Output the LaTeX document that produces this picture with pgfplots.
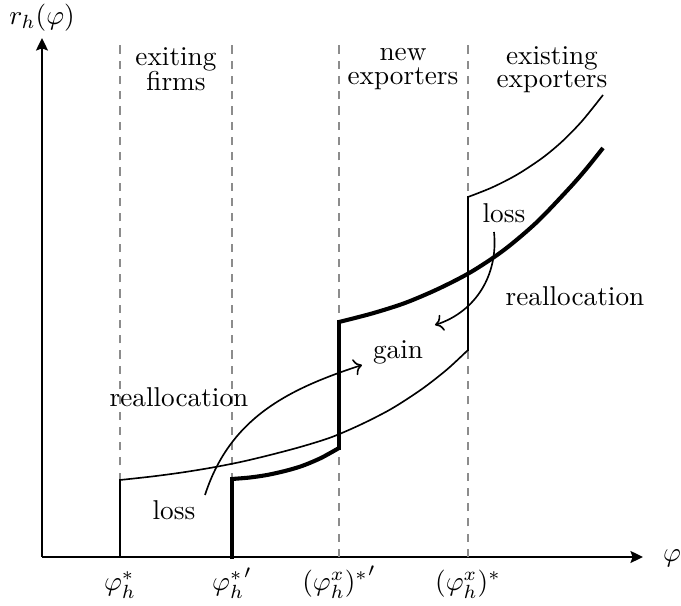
\documentclass[border=0pt]{standalone}
\usepackage{pgfplots}
\pgfplotsset{compat=1.18}
\usetikzlibrary{arrows.meta}
\begin{document}
\begin{tikzpicture}
\begin{axis}[
  scale only axis, width=220.6pt, height=190.5pt,
  xmin=0, xmax=601, ymin=0, ymax=519,
  axis lines=left,
  axis line style={line width=0.75pt, -{Stealth[length=4.6pt,width=4.4pt,inset=0.8pt]}},
  xtick={78,190,297,426},
  xticklabels={$\varphi_h^*$, ${\varphi_h^*}'$, ${(\varphi_h^x)^*}'$, $(\varphi_h^x)^*$},
  ytick=\empty,
  major tick length=0pt,
  xticklabel style={anchor=base, inner sep=0pt, yshift=-12.3pt},
  clip=false,
]
% invisible frame fixing the picture size
\path (axis cs:-42,-49) rectangle (axis cs:639,557);

% dashed guides
\addplot[black!45, line width=0.4pt, dash pattern=on 3pt off 2.6pt] coordinates {(78,0) (78,512)};
\addplot[black!45, line width=0.4pt, dash pattern=on 3pt off 2.6pt] coordinates {(190,0) (190,512)};
\addplot[black!45, line width=0.4pt, dash pattern=on 3pt off 2.6pt] coordinates {(297,0) (297,512)};
\addplot[black!45, line width=0.4pt, dash pattern=on 3pt off 2.6pt] coordinates {(426,0) (426,512)};

% thin (old) revenue schedule
\addplot[black, line width=0.6pt, line cap=rect] coordinates {(78,0) (78,77)};
\addplot[black, line width=0.6pt, smooth] coordinates {(78,77) (110,80.5) (140,84.5) (170,89.4) (200,95.3) (230,102.5) (260,110.5) (290,120) (320,133) (350,148.5) (380,168) (405,187.5) (426,207)};
\addplot[black, line width=0.6pt, line cap=rect] coordinates {(426,207) (426,360)};
\addplot[black, line width=0.6pt, smooth] coordinates {(426,360) (450,369.5) (475,382.3) (500,398.8) (520,415.4) (540,435.9) (561,462)};

% thick (new) revenue schedule
\addplot[black, line width=1.5pt, line cap=rect] coordinates {(190,0) (190,78)};
\addplot[black, line width=1.5pt, smooth] coordinates {(190,78) (208,79.5) (225,82) (243,86) (260,91) (279,99) (297,109)};
\addplot[black, line width=1.5pt, line cap=rect] coordinates {(297,109) (297,235)};
\addplot[black, line width=1.5pt, smooth] coordinates {(297,235) (330,243.5) (363,254) (396,268) (429,285) (462,307) (495,335) (528,369.5) (545,389) (561,409)};

% labels
\node[inner sep=0pt] at (axis cs:630,-1) {$\varphi$};
\node[inner sep=0pt] at (axis cs:0,539) {$r_h(\varphi)$};
\node[align=center] at (axis cs:134,488) {exiting\\[-3pt]firms};
\node[align=center] at (axis cs:361,488) {new\\[-3pt]exporters};
\node[align=center] at (axis cs:510,487) {existing\\[-3.5pt]exporters};
\node at (axis cs:137,160) {reallocation};
\node at (axis cs:533,261) {reallocation};
\node at (axis cs:132,47) {loss};
\node at (axis cs:462,344) {loss};
\node at (axis cs:356,205) {gain};

% arrows
\draw[->, line width=0.6pt] (axis cs:163,62) to[out=72,in=198] (axis cs:320,192);
\draw[->, line width=0.6pt] (axis cs:452,325) to[out=-84,in=18] (axis cs:393,232);
\end{axis}
\end{tikzpicture}
\end{document}
